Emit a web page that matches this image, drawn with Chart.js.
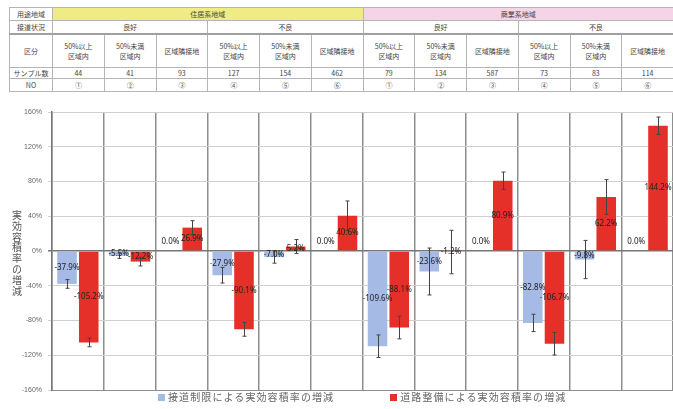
<!DOCTYPE html>
<html lang="ja">
<head>
<meta charset="utf-8">
<script src="https://cdn.jsdelivr.net/npm/chart.js@4.4.0/dist/chart.umd.min.js"></script>
<style>
  body { margin: 0; background: #fff; font-family: "Noto Sans CJK JP", "Noto Sans", sans-serif; }
  #wrap { position: relative; width: 673px; height: 409px; overflow: hidden; background: #fff; }
  #info { position: absolute; top: 7px; left: 9px; border-collapse: collapse; table-layout: fixed; font-size: 7px; color: #444; }
  #info td { border: 1px solid #b5b5b5; text-align: center; padding: 0; line-height: 10px; overflow: hidden; white-space: nowrap; }
  #info tr.r1 td { height: 12px; }
  #info tr.r2 td { height: 12px; border-bottom: 2px solid #a0a0a0; }
  #info tr.r3 td { height: 32px; }
  #info tr.r4 td { height: 10px; }
  #info tr.r5 td { height: 12px; }
  #info td.yl { background: #efec85; }
  #info td.pk { background: #f4d4e6; }
  #chartBox { position: absolute; top: 100px; left: 0; width: 673px; height: 309px; }
  #ytitle { position: absolute; left: 11px; top: 210px; width: 12px; font-size: 10px; line-height: 10.8px;
            color: #555; text-align: center; }
  #legend { position: absolute; left: 158px; top: 390px; display: flex;
            gap: 56px; font-size: 10px; letter-spacing: 1.1px; color: #666; line-height: 14px; white-space: nowrap; }
  #legend span.box { display: inline-block; width: 7px; height: 7px; margin-right: 3px; vertical-align: 0px; }
</style>
</head>
<body>
<div id="wrap">
  <table id="info"></table>
  <div id="chartBox"><canvas id="chart" width="673" height="309"></canvas></div>
  <div id="ytitle"></div>
  <div id="legend"></div>
</div>
<script>
// table rows above the chart
const areaNames = ['住居系地域', '商業系地域'];
const roadStates = ['良好', '不良'];
const zoneNames = ['50%以上<br>区域内', '50%未満<br>区域内', '区域隣接地'];
const sampleCounts = [44, 41, 93, 127, 154, 462, 79, 134, 587, 73, 83, 114];
const caseNos = ['①', '②', '③', '④', '⑤', '⑥', '①', '②', '③', '④', '⑤', '⑥'];

// change in effective floor-area ratio (%), with error ranges
const blueValues = [-37.9, -5.5, 0.0, -27.9, -7.0, 0.0, -109.6, -23.6, 0.0, -82.8, -9.8, 0.0];
const redValues = [-105.2, -12.2, 26.9, -90.1, 5.2, 40.6, -88.1, -1.2, 80.9, -106.7, 62.2, 144.2];
const blueErrors = [5, 3, 0, 9, 7, 0, 13, 27, 0, 10, 22, 0];
const redErrors = [5, 5, 8, 8, 8, 17, 13, 25, 10, 13, 20, 10];

const seriesNames = ['接道制限による実効容積率の増減', '道路整備による実効容積率の増減'];
const seriesColors = ['#a6bae6', '#e5302a'];
const yTitle = '実効容積率の増減';
const yTicks = [-160, -120, -80, -40, 0, 40, 80, 120, 160];

function buildTable(chart) {
  const x = chart.scales.x;
  const step = x.getPixelForValue(1) - x.getPixelForValue(0);
  const left = x.getPixelForValue(0) - step / 2;
  const firstW = left - 9;
  const table = document.getElementById('info');
  let cols = `<colgroup><col style="width:${firstW}px">`;
  for (let i = 0; i < 12; i++) cols += `<col style="width:${step}px">`;
  cols += '</colgroup>';

  let r1 = '<tr class="r1"><td>用途地域</td>';
  areaNames.forEach((n, i) => { r1 += `<td colspan="6" class="${i === 0 ? 'yl' : 'pk'}">${n}</td>`; });
  r1 += '</tr>';

  let r2 = '<tr class="r2"><td>接道状況</td>';
  areaNames.forEach(() => roadStates.forEach(s => { r2 += `<td colspan="3">${s}</td>`; }));
  r2 += '</tr>';

  let r3 = '<tr class="r3"><td>区分</td>';
  for (let i = 0; i < 12; i++) r3 += `<td>${zoneNames[i % 3]}</td>`;
  r3 += '</tr>';

  let r4 = '<tr class="r4"><td>サンプル数</td>' + sampleCounts.map(c => `<td>${c}</td>`).join('') + '</tr>';
  let r5 = '<tr class="r5"><td>NO</td>' + caseNos.map(c => `<td>${c}</td>`).join('') + '</tr>';

  table.innerHTML = cols + r1 + r2 + r3 + r4 + r5;
  table.style.width = (firstW + step * 12) + 'px';
}

function buildLegend() {
  document.getElementById('legend').innerHTML = seriesNames
    .map((n, i) => `<div><span class="box" style="background:${seriesColors[i]}"></span>${n}</div>`)
    .join('');
  document.getElementById('ytitle').innerHTML = yTitle.split('').join('<br>');
}

const errorBars = {
  id: 'errorBars',
  afterDatasetsDraw(chart) {
    const ctx = chart.ctx;
    const y = chart.scales.y;
    const errs = [blueErrors, redErrors];
    ctx.save();
    ctx.strokeStyle = '#444';
    ctx.lineWidth = 1;
    chart.data.datasets.forEach((ds, di) => {
      chart.getDatasetMeta(di).data.forEach((bar, i) => {
        const e = errs[di][i];
        if (!e) return;
        const v = ds.data[i];
        const top = y.getPixelForValue(v + e);
        const bot = y.getPixelForValue(v - e);
        const bx = Math.round(bar.x) + 0.5;
        ctx.beginPath();
        ctx.moveTo(bx, top); ctx.lineTo(bx, bot);
        ctx.moveTo(bx - 2, top); ctx.lineTo(bx + 2, top);
        ctx.moveTo(bx - 2, bot); ctx.lineTo(bx + 2, bot);
        ctx.stroke();
      });
    });
    ctx.restore();
  }
};

const valueLabels = {
  id: 'valueLabels',
  afterDatasetsDraw(chart) {
    const ctx = chart.ctx;
    ctx.save();
    ctx.font = '8px "Noto Sans", sans-serif';
    ctx.fillStyle = '#222';
    ctx.textAlign = 'center';
    ctx.textBaseline = 'middle';
    chart.data.datasets.forEach((ds, di) => {
      chart.getDatasetMeta(di).data.forEach((bar, i) => {
        const v = ds.data[i];
        let ty = (bar.y + bar.base) / 2;
        if (v === 0) ty = bar.base - 9;
        ctx.fillText(v.toFixed(1) + '%', bar.x, ty);
      });
    });
    ctx.restore();
  }
};

const chart = new Chart(document.getElementById('chart'), {
  type: 'bar',
  data: {
    labels: caseNos,
    datasets: [
      { label: seriesNames[0], data: blueValues, backgroundColor: seriesColors[0] },
      { label: seriesNames[1], data: redValues, backgroundColor: seriesColors[1] }
    ]
  },
  options: {
    responsive: false,
    animation: false,
    categoryPercentage: 0.84,
    barPercentage: 0.9,
    layout: { padding: { top: 12, right: 0, left: 0, bottom: 19 } },
    plugins: {
      legend: { display: false },
      tooltip: { enabled: false }
    },
    scales: {
      x: {
        ticks: { display: false },
        grid: { color: '#8e8e8e', lineWidth: 1.5, offset: true, drawTicks: false },
        border: { color: '#8e8e8e' }
      },
      y: {
        min: -160, max: 160,
        afterBuildTicks(scale) { scale.ticks = yTicks.map(v => ({ value: v })); },
        afterFit(scale) { scale.width = 52; },
        ticks: {
          callback: v => v + '%',
          color: '#666',
          font: { size: 7 },
          padding: 6
        },
        grid: {
          color: ctx => (ctx.tick && ctx.tick.value === 0 ? '#777' : '#cfcfcf'),
          lineWidth: ctx => (ctx.tick && ctx.tick.value === 0 ? 1.5 : 1),
          tickLength: 4
        },
        border: { color: '#777', width: 1.5 }
      }
    }
  },
  plugins: [errorBars, valueLabels]
});

buildTable(chart);
buildLegend();
</script>
</body>
</html>
